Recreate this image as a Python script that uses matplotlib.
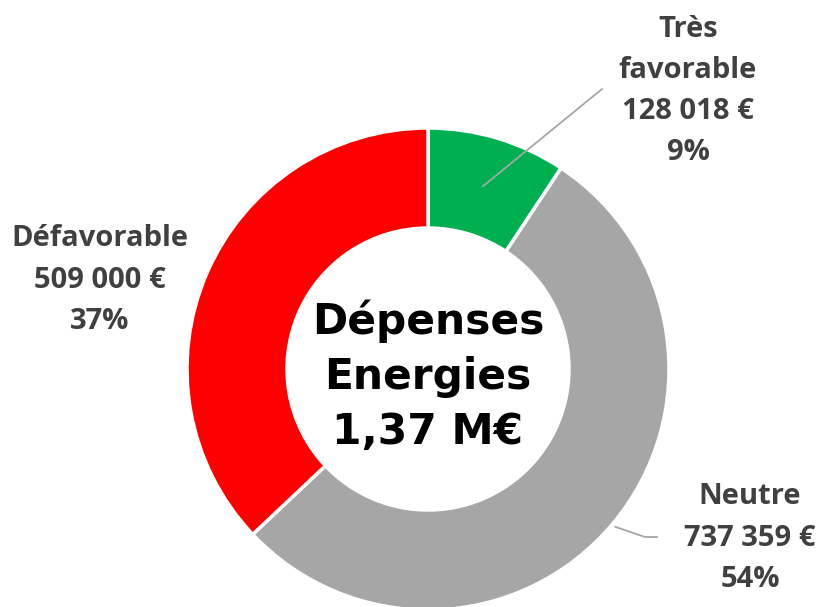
import numpy as np
import matplotlib
matplotlib.use("Agg")
import matplotlib.pyplot as plt

categories = ["Très\nfavorable", "Neutre", "Défavorable"]
values = [128018, 737359, 509000]
value_labels = ["128 018 €", "737 359 €", "509 000 €"]
colors = ["#00B050", "#A6A6A6", "#FF0000"]
center_title = "Dépenses\nEnergies\n1,37 M€"

W, H = 823, 607
fig = plt.figure(figsize=(W / 100, H / 100), dpi=100)
ax = fig.add_axes([0, 0, 1, 1])

cx, cy = 428, H - 369
R = 241
width = 100
wedges, _ = ax.pie(values, colors=colors, startangle=90, counterclock=False,
                   center=(cx, cy), radius=R, frame=True,
                   wedgeprops=dict(width=width, edgecolor="white", linewidth=2.5))
ax.set_xlim(0, W)
ax.set_ylim(0, H)
ax.set_aspect("equal")
ax.axis("off")

total = sum(values)
pcts = [f"{round(v / total * 100)}%" for v in values]

lab_font = dict(family=["Open Sans", "DejaVu Sans"], fontweight="bold", fontsize=21,
                color="#404040", ha="center", va="center", linespacing=1.55)

def mid_angle(w):
    return np.deg2rad((w.theta1 + w.theta2) / 2)

# Très favorable (leader line inside wedge to label)
a = mid_angle(wedges[0])
r0 = R - width / 2
p0 = (cx + r0 * np.cos(a), cy + r0 * np.sin(a))
ax.plot([p0[0], 602], [p0[1], H - 89], color="#A6A6A6", lw=1.3)
ax.text(688, H - 91, f"{categories[0]}\n{value_labels[0]}\n{pcts[0]}", **lab_font)

# Neutre
a = mid_angle(wedges[1])
r1 = R + 4
p1 = (cx + r1 * np.cos(a), cy + r1 * np.sin(a))
ax.plot([p1[0], 645, 657], [p1[1], H - 537, H - 537], color="#A6A6A6", lw=1.3)
ax.text(750, H - 538, f"{categories[1]}\n{value_labels[1]}\n{pcts[1]}", **lab_font)

# Défavorable
ax.text(100, H - 280, f"{categories[2]}\n{value_labels[2]}\n{pcts[2]}", **lab_font)

ax.text(cx, cy - 7, center_title, family=["DejaVu Sans"], fontweight="bold",
        fontsize=30.5, color="black", ha="center", va="center", linespacing=1.40)

fig.savefig("out.png", dpi=100)
